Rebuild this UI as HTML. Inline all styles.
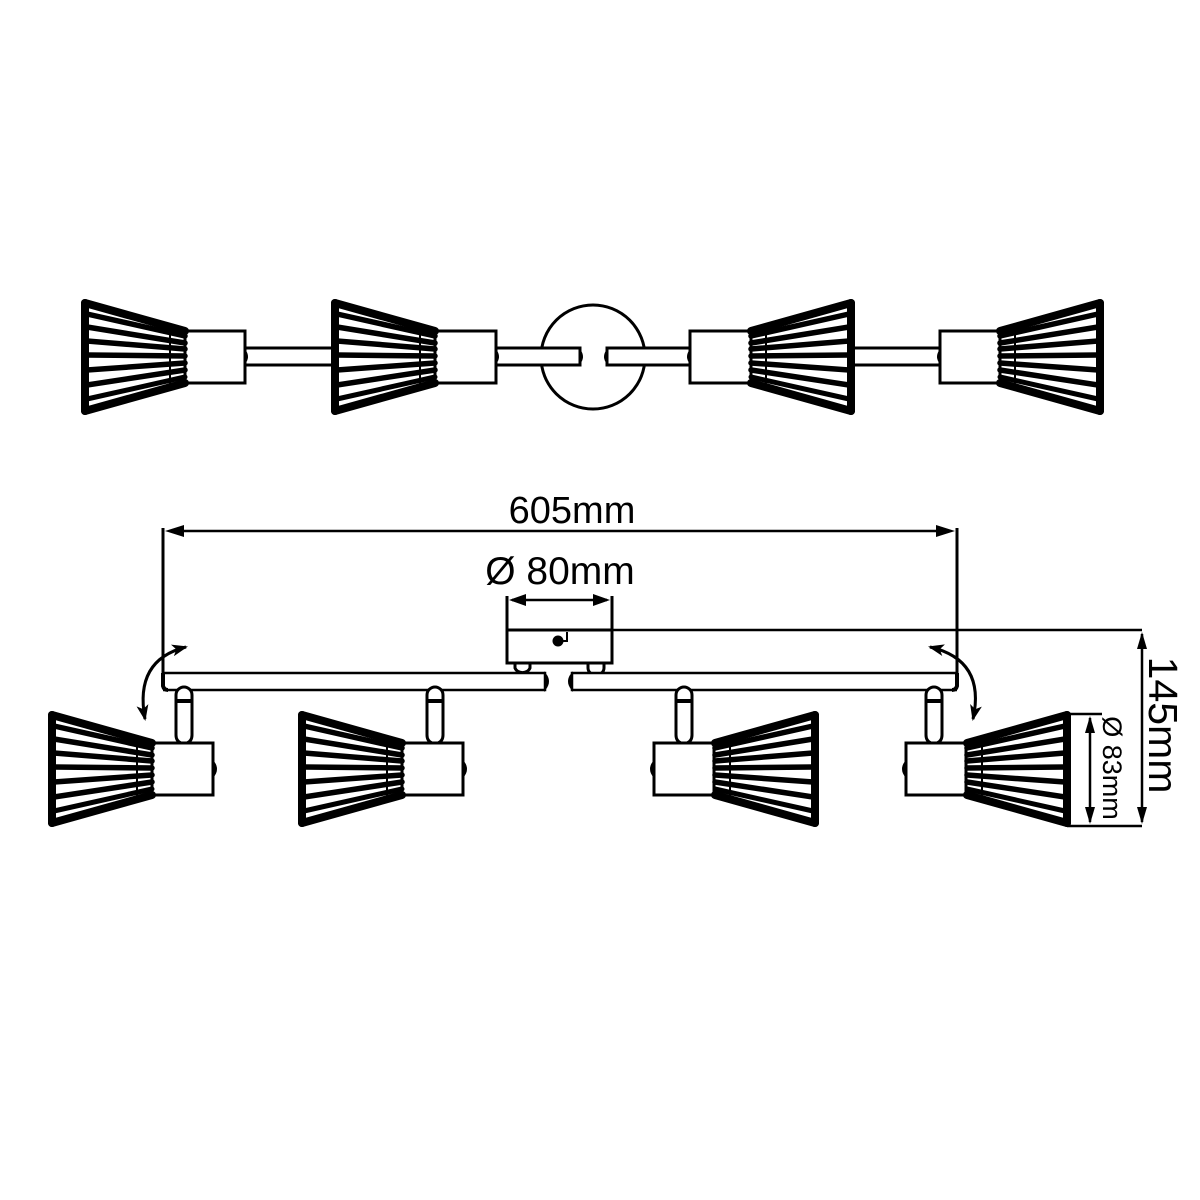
<!DOCTYPE html>
<html><head><meta charset="utf-8"><style>
html,body{margin:0;padding:0;background:#fff;}
svg{display:block;}
text{font-family:"Liberation Sans",Arial,sans-serif;fill:#000;}
</style></head><body>
<svg width="1200" height="1200" viewBox="0 0 1200 1200" xmlns="http://www.w3.org/2000/svg">
<defs>
  <g id="shade">
    <g stroke="#000" fill="none" stroke-linecap="round">
      <line x1="0" y1="-54" x2="100" y2="-26" stroke-width="8"/>
      <line x1="0" y1="54" x2="100" y2="26" stroke-width="8"/>
      <line x1="0" y1="-54" x2="0" y2="54" stroke-width="8"/>
      <line x1="2" y1="-43" x2="100" y2="-21" stroke-width="5.5"/>
      <line x1="2" y1="-30" x2="100" y2="-14" stroke-width="5.5"/>
      <line x1="2" y1="-16" x2="100" y2="-8" stroke-width="5.5"/>
      <line x1="2" y1="-2" x2="100" y2="-1" stroke-width="5.5"/>
      <line x1="2" y1="13" x2="100" y2="6" stroke-width="5.5"/>
      <line x1="2" y1="28" x2="100" y2="13" stroke-width="5.5"/>
      <line x1="2" y1="42" x2="100" y2="20" stroke-width="5"/>
      <line x1="85" y1="-28" x2="85" y2="26" stroke-width="2"/>
    </g>
  </g>
  <marker id="ah" markerWidth="16" markerHeight="12" refX="14" refY="6" orient="auto" markerUnits="userSpaceOnUse">
    <path d="M0,0 L16,6 L0,12 L4,6 Z" fill="#000"/>
  </marker>
  <marker id="ahs" markerWidth="16" markerHeight="12" refX="2" refY="6" orient="auto" markerUnits="userSpaceOnUse">
    <path d="M16,0 L0,6 L16,12 L12,6 Z" fill="#000"/>
  </marker>
  <g id="stem">
    <path d="M-8,-48 A8,8 0 0 1 8,-48 L8,-8 Q8,-2 3,0 L-3,0 Q-8,-2 -8,-8 Z" fill="#fff" stroke="#000" stroke-width="3"/>
    <line x1="-8" y1="-42" x2="8" y2="-42" stroke="#000" stroke-width="4"/>
  </g>
</defs>

<g stroke="#000" stroke-width="3" fill="#fff">
  <rect x="245" y="348" width="92" height="17"/>
  <circle cx="593" cy="357" r="52"/>
  <rect x="495" y="348" width="85" height="17"/>
  <rect x="607" y="348" width="84" height="17"/>
  <rect x="850" y="348" width="91" height="17"/>
  <rect x="185" y="331" width="60" height="52"/>
  <rect x="435" y="331" width="61" height="52"/>
  <rect x="690" y="331" width="61" height="52"/>
  <rect x="940" y="331" width="60" height="52"/>
</g>
<g fill="#000">
  <path d="M245,349 Q251,357 245,364 Z"/>
  <path d="M496,349 Q502,357 496,364 Z"/>
  <path d="M580,349 Q586,357 580,364 Z"/>
  <path d="M607,349 Q601,357 607,364 Z"/>
  <path d="M690,349 Q684,357 690,364 Z"/>
  <path d="M940,349 Q934,357 940,364 Z"/>
</g>
<use href="#shade" transform="translate(85,357)"/>
<use href="#shade" transform="translate(335,357)"/>
<use href="#shade" transform="translate(851,357) scale(-1,1)"/>
<use href="#shade" transform="translate(1100,357) scale(-1,1)"/>

<line x1="163" y1="528" x2="163" y2="673" stroke="#000" stroke-width="3"/>
<line x1="957" y1="528" x2="957" y2="673" stroke="#000" stroke-width="3"/>
<line x1="170" y1="531" x2="950" y2="531" stroke="#000" stroke-width="2.5"/>
<path d="M165,531 L184,525 L184,537 Z" fill="#000"/>
<path d="M955,531 L936,525 L936,537 Z" fill="#000"/>
<text x="572" y="523" font-size="38" text-anchor="middle">605mm</text>
<text x="560" y="584" font-size="39" text-anchor="middle">Ø 80mm</text>
<line x1="507" y1="596" x2="507" y2="663" stroke="#000" stroke-width="3"/>
<line x1="612" y1="596" x2="612" y2="663" stroke="#000" stroke-width="3"/>
<line x1="512" y1="600" x2="607" y2="600" stroke="#000" stroke-width="2.5"/>
<path d="M509,600 L526,594 L526,606 Z" fill="#000"/>
<path d="M610,600 L593,594 L593,606 Z" fill="#000"/>
<rect x="507" y="630" width="105" height="33" fill="#fff" stroke="#000" stroke-width="3"/>
<line x1="612" y1="630" x2="1142" y2="630" stroke="#000" stroke-width="2.5"/>
<circle cx="558" cy="641" r="5.5" fill="#000"/>
<path d="M561,641 L567,641 L567,632" fill="none" stroke="#000" stroke-width="2"/>
<path d="M515,663 L530,663 L530,668 A8,7 0 0 1 515,668 Z" fill="#fff" stroke="#000" stroke-width="3"/>
<path d="M588,663 L604,663 L604,668 A8,7 0 0 1 588,668 Z" fill="#fff" stroke="#000" stroke-width="3"/>
<path d="M163,673 L545,673 L545,690 L163,690" fill="#fff" stroke="#000" stroke-width="2.5"/>
<path d="M957,673 L572,673 L572,690 L957,690" fill="#fff" stroke="#000" stroke-width="2.5"/>
<path d="M545,674 Q551,681 545,689 Z" fill="#000" stroke="#000" stroke-width="2"/>
<path d="M572,674 Q566,681 572,689 Z" fill="#000" stroke="#000" stroke-width="2"/>
<path d="M163,673 L163,686 Q164,690 168,690" fill="none" stroke="#000" stroke-width="4"/>
<path d="M957,673 L957,686 Q956,690 952,690" fill="none" stroke="#000" stroke-width="4"/>
<path d="M186,647 Q134,660 145,719" fill="none" stroke="#000" stroke-width="3" marker-start="url(#ahs)" marker-end="url(#ah)"/>
<path d="M930,647 Q986,660 973,719" fill="none" stroke="#000" stroke-width="3" marker-start="url(#ahs)" marker-end="url(#ah)"/>

<use href="#stem" transform="translate(184,743)"/>
<use href="#stem" transform="translate(435,743)"/>
<use href="#stem" transform="translate(684,743)"/>
<use href="#stem" transform="translate(934,743)"/>
<g stroke="#000" stroke-width="3" fill="#fff">
  <rect x="152" y="743" width="61" height="52"/>
  <rect x="402" y="743" width="61" height="52"/>
  <rect x="654" y="743" width="60" height="52"/>
  <rect x="906" y="743" width="60" height="52"/>
</g>
<g fill="#000">
  <path d="M213,760 Q221,769 213,778 Z"/>
  <path d="M463,760 Q471,769 463,778 Z"/>
  <path d="M654,760 Q646,769 654,778 Z"/>
  <path d="M906,760 Q898,769 906,778 Z"/>
</g>
<use href="#shade" transform="translate(52,769)"/>
<use href="#shade" transform="translate(302,769)"/>
<use href="#shade" transform="translate(815,769) scale(-1,1)"/>
<use href="#shade" transform="translate(1067,769) scale(-1,1)"/>

<line x1="1067" y1="714" x2="1102" y2="714" stroke="#000" stroke-width="2.5"/>
<line x1="1067" y1="826" x2="1142" y2="826" stroke="#000" stroke-width="2.5"/>
<line x1="1090" y1="718" x2="1090" y2="822" stroke="#000" stroke-width="2.5"/>
<path d="M1090,716 L1085,733 L1095,733 Z" fill="#000"/>
<path d="M1090,824 L1085,807 L1095,807 Z" fill="#000"/>
<text transform="translate(1103,768) rotate(90)" font-size="27" text-anchor="middle">Ø 83mm</text>
<line x1="1142" y1="634" x2="1142" y2="822" stroke="#000" stroke-width="2.5"/>
<path d="M1142,632 L1137,649 L1147,649 Z" fill="#000"/>
<path d="M1142,824 L1137,807 L1147,807 Z" fill="#000"/>
<text transform="translate(1149,725) rotate(90)" font-size="41" text-anchor="middle">145mm</text>
</svg>
</body></html>
